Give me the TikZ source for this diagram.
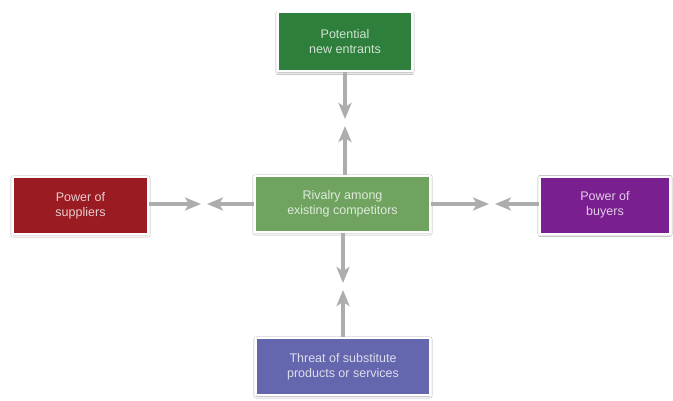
\documentclass[tikz,border=0pt]{standalone}
\usepackage{fontspec}
\setmainfont{Liberation Sans}
\usetikzlibrary{arrows.meta,shadows.blur}
\definecolor{cTop}{HTML}{2E7F3C}
\definecolor{cLeft}{HTML}{9A1B22}
\definecolor{cMid}{HTML}{6FA35F}
\definecolor{cRight}{HTML}{7A1F8F}
\definecolor{cBot}{HTML}{6466AE}
\definecolor{arr}{HTML}{ADADAD}
\tikzset{
  forcebox/.style={draw=white, line width=2pt, minimum height=57pt, align=center,
    font=\fontsize{12.5}{15}\selectfont, text=white, text opacity=0.78,
    blur shadow={shadow blur steps=6, shadow xshift=0pt, shadow yshift=-1pt, shadow opacity=35}},
  garrow/.style={draw=arr, line width=4.5pt, -{Stealth[width=13pt,length=16pt,inset=4pt]}}
}
\begin{document}
\begin{tikzpicture}[x=1pt,y=1pt]
\useasboundingbox (0,0) rectangle (673,400);
\fill[white] (0,0) rectangle (673,400);
\node[forcebox, fill=cTop, minimum width=134pt, minimum height=59pt] (top) at (345,358) {Potential\\new entrants};
\node[forcebox, fill=cLeft, minimum width=135pt] (left) at (80.5,194.5) {Power of\\suppliers};
\node[forcebox, fill=cMid, minimum width=175pt, minimum height=56pt] (mid) at (342.5,196) {Rivalry among\\existing competitors};
\node[forcebox, fill=cRight, minimum width=130pt] (right) at (605,195) {Power of\\buyers};
\node[forcebox, fill=cBot, minimum width=174pt] (bot) at (343,33.5) {Threat of substitute\\products or services};
\coordinate (vt) at (345,281);
\coordinate (vt2) at (345,274);
\coordinate (hl) at (201,196);
\coordinate (hl2) at (207,196);
\coordinate (hr) at (489,196);
\coordinate (hr2) at (495,196);
\coordinate (vb) at (343,117);
\coordinate (vb2) at (343,110);
\draw[garrow] (top.south) -- (vt);
\draw[garrow] (mid.north -| top.south) -- (vt2);
\draw[garrow] (left.east |- mid.west) -- (hl);
\draw[garrow] (mid.west) -- (hl2);
\draw[garrow] (mid.east) -- (hr);
\draw[garrow] (right.west |- mid.east) -- (hr2);
\draw[garrow] (mid.south -| bot.north) -- (vb);
\draw[garrow] (bot.north) -- (vb2);
\end{tikzpicture}
\end{document}
